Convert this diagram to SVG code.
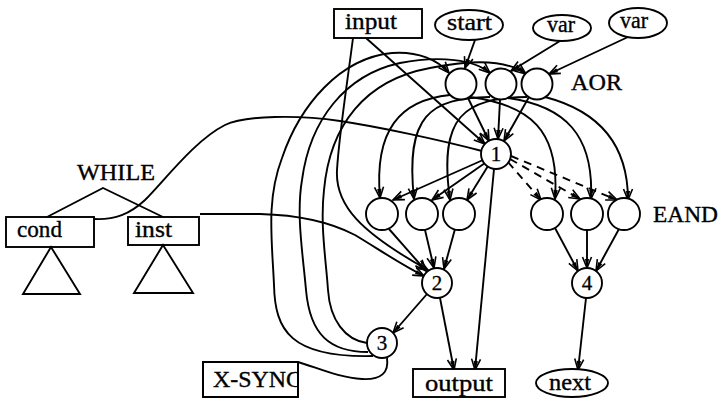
<svg xmlns="http://www.w3.org/2000/svg" width="720" height="404" viewBox="0 0 720 404">
  <style>
    .ln { fill: none; stroke: #000; stroke-width: 1.9; }
    .dash { fill: none; stroke: #000; stroke-width: 1.9; stroke-dasharray: 8 6; }
    .shape { fill: #fff; stroke: #000; stroke-width: 1.9; }
    .lbl { font-family: "Liberation Serif", "DejaVu Serif", serif; font-size: 22.5px; fill: #000; stroke: #000; stroke-width: 0.35; }
    .num { font-family: "Liberation Serif", "DejaVu Serif", serif; font-size: 21px; fill: #000; stroke: #000; stroke-width: 0.3; text-anchor: middle; }
  </style>
  <defs>
    <marker id="ah" viewBox="-12 -6 13 12" refX="0" refY="0" markerWidth="13" markerHeight="12" markerUnits="userSpaceOnUse" orient="auto">
      <path d="M-11,-4.5 L0,0 L-11,4.5" fill="none" stroke="#000" stroke-width="1.6"/>
      <path d="M-9,-2.2 L0,0 L-9,2.2 Z" fill="#000"/>
    </marker>
    <clipPath id="xsyncClip">
      <rect x="203" y="362" width="95" height="35"/>
    </clipPath>
  </defs>

  <g id="connectors">
    <!-- sources into the AOR circles -->
    <path class="ln" d="M475,40 L465,68" marker-end="url(#ah)"/>
    <path class="ln" d="M560,41 L511,71" marker-end="url(#ah)"/>
    <path class="ln" d="M628,37 L549,74" marker-end="url(#ah)"/>

    <!-- feedback arcs from node 3 back to the AOR circles -->
    <path class="ln" d="M373,356 C290,358 275,330 274,285 C272,240 266,200 282,158 C300,105 340,58 392,53 C418,51 438,60 449,73" marker-end="url(#ah)"/>
    <path class="ln" d="M368,352 C330,352 310,335 306,290 C303,255 296,215 302,180 C310,120 345,75 400,63 C440,55 475,60 490,73" marker-end="url(#ah)"/>
    <path class="ln" d="M367,343 C345,340 330,320 328,290 C326,260 320,225 324,190 C330,125 365,80 430,68 C480,58 510,62 526,74" marker-end="url(#ah)"/>

    <!-- input -->
    <path class="ln" d="M366,38 L485,144" marker-end="url(#ah)"/>
    <path class="ln" d="M353,38 C347,85 339,135 337,170 C335,205 360,232 428,270" marker-end="url(#ah)"/>

    <!-- cond and inst -->
    <path class="ln" d="M94,219 C115,220 130,214 145,200 C165,180 195,140 225,125 C245,115 300,115 340,121 C380,127 440,140 482,151"/>
    <path class="ln" d="M200,214 L260,214 C300,215 330,222 355,235 C380,250 400,264 424,276" marker-end="url(#ah)"/>

    <!-- AOR circles into node 1 -->
    <path class="ln" d="M468,98 L489,141" marker-end="url(#ah)"/>
    <path class="ln" d="M500,100 L498,139" marker-end="url(#ah)"/>
    <path class="ln" d="M529,97 L504,141" marker-end="url(#ah)"/>

    <!-- AOR circles down to the AND circles -->
    <path class="ln" d="M450,95 C400,100 374,130 380,198" marker-end="url(#ah)"/>
    <path class="ln" d="M490,97 C430,98 405,115 414,199" marker-end="url(#ah)"/>
    <path class="ln" d="M527,97 C465,98 438,115 450,200" marker-end="url(#ah)"/>

    <!-- AOR circles down to the EAND circles -->
    <path class="ln" d="M470,97 C530,105 560,130 555,199" marker-end="url(#ah)"/>
    <path class="ln" d="M508,98 C565,106 594,135 591,199" marker-end="url(#ah)"/>
    <path class="ln" d="M545,97 C595,110 628,140 628,200" marker-end="url(#ah)"/>

    <!-- node 1 out -->
    <path class="ln" d="M483,160 L393,200" marker-end="url(#ah)"/>
    <path class="ln" d="M485,163 L432,200" marker-end="url(#ah)"/>
    <path class="ln" d="M488,166 L467,200" marker-end="url(#ah)"/>
    <path class="dash" d="M508,162 L541,200" marker-end="url(#ah)"/>
    <path class="dash" d="M510,159 L580,199" marker-end="url(#ah)"/>
    <path class="dash" d="M511,156 L617,200" marker-end="url(#ah)"/>
    <path class="ln" d="M494,169 L475,370" marker-end="url(#ah)"/>

    <!-- AND circles into node 2 -->
    <path class="ln" d="M389,229 L426,271" marker-end="url(#ah)"/>
    <path class="ln" d="M425,230 L434,268" marker-end="url(#ah)"/>
    <path class="ln" d="M455,229 L444,269" marker-end="url(#ah)"/>

    <!-- EAND circles into node 4 -->
    <path class="ln" d="M555,228 L578,271" marker-end="url(#ah)"/>
    <path class="ln" d="M587,230 L587,268" marker-end="url(#ah)"/>
    <path class="ln" d="M619,229 L596,271" marker-end="url(#ah)"/>

    <!-- node 2, node 3, node 4 out -->
    <path class="ln" d="M427,294 L393,333" marker-end="url(#ah)"/>
    <path class="ln" d="M440,298 L454,370" marker-end="url(#ah)"/>
    <path class="ln" d="M586,298 L578,370" marker-end="url(#ah)"/>
    <path class="ln" d="M387,358 C389,372 382,380 362,379 C340,378 318,368 298,362"/>
  </g>

  <g id="while-tree">
    <text class="lbl" x="77" y="180" textLength="78" lengthAdjust="spacingAndGlyphs">WHILE</text>
    <path class="ln" d="M47,217 L103,188 L163,217"/>
  </g>

  <g id="cond">
    <rect class="shape" x="6" y="217" width="88" height="30"/>
    <text class="lbl" x="17" y="237" textLength="45" lengthAdjust="spacingAndGlyphs">cond</text>
    <path class="ln" d="M51,247 L23,294 L80,294 Z"/>
  </g>
  <g id="inst">
    <rect class="shape" x="128" y="217" width="71" height="28"/>
    <text class="lbl" x="135" y="237" textLength="37" lengthAdjust="spacingAndGlyphs">inst</text>
    <path class="ln" d="M163,245 L134,293 L193,293 Z"/>
  </g>

  <g id="input">
    <rect class="shape" x="334" y="9" width="88" height="29"/>
    <text class="lbl" x="345" y="29" textLength="52" lengthAdjust="spacingAndGlyphs">input</text>
  </g>
  <g id="start">
    <ellipse class="shape" cx="469" cy="25" rx="34" ry="15"/>
    <text class="lbl" x="447" y="30" textLength="45" lengthAdjust="spacingAndGlyphs">start</text>
  </g>
  <g id="var-1">
    <ellipse class="shape" cx="562" cy="28" rx="29" ry="13"/>
    <text class="lbl" x="547" y="32" textLength="28" lengthAdjust="spacingAndGlyphs">var</text>
  </g>
  <g id="var-2">
    <ellipse class="shape" cx="638" cy="23" rx="29" ry="15"/>
    <text class="lbl" x="620" y="28" textLength="28" lengthAdjust="spacingAndGlyphs">var</text>
  </g>

  <g id="aor">
    <circle class="shape" cx="461" cy="84" r="15.5"/>
    <circle class="shape" cx="501" cy="84" r="15.5"/>
    <circle class="shape" cx="537" cy="84" r="15.5"/>
    <text class="lbl" x="571" y="90" textLength="51" lengthAdjust="spacingAndGlyphs">AOR</text>
  </g>

  <g id="node-1">
    <circle class="shape" cx="496" cy="154" r="15"/>
    <text class="num" x="496" y="161">1</text>
  </g>

  <g id="and">
    <circle class="shape" cx="382" cy="214" r="16"/>
    <circle class="shape" cx="422" cy="214" r="16"/>
    <circle class="shape" cx="459" cy="214" r="16"/>
  </g>

  <g id="eand">
    <circle class="shape" cx="547" cy="214" r="16"/>
    <circle class="shape" cx="587" cy="214" r="16"/>
    <circle class="shape" cx="624" cy="214" r="16"/>
    <text class="lbl" x="653" y="222" textLength="65" lengthAdjust="spacingAndGlyphs">EAND</text>
  </g>

  <g id="node-2">
    <circle class="shape" cx="437" cy="283" r="15"/>
    <text class="num" x="437" y="290">2</text>
  </g>
  <g id="node-3">
    <circle class="shape" cx="382" cy="343" r="15"/>
    <text class="num" x="382" y="350">3</text>
  </g>
  <g id="node-4">
    <circle class="shape" cx="587" cy="283" r="15"/>
    <text class="num" x="587" y="290">4</text>
  </g>

  <g id="x-sync">
    <rect class="shape" x="203" y="362" width="95" height="35"/>
    <text class="lbl" x="213" y="387" textLength="89" lengthAdjust="spacingAndGlyphs" clip-path="url(#xsyncClip)">X-SYNC</text>
    <rect x="203" y="362" width="95" height="35" fill="none" stroke="#000" stroke-width="1.9"/>
  </g>

  <g id="output">
    <rect class="shape" x="413" y="369" width="92" height="28"/>
    <text class="lbl" x="425" y="391" textLength="68" lengthAdjust="spacingAndGlyphs">output</text>
  </g>

  <g id="next">
    <ellipse class="shape" cx="572" cy="383" rx="36" ry="14"/>
    <text class="lbl" x="549" y="390" textLength="42" lengthAdjust="spacingAndGlyphs">next</text>
  </g>
</svg>
